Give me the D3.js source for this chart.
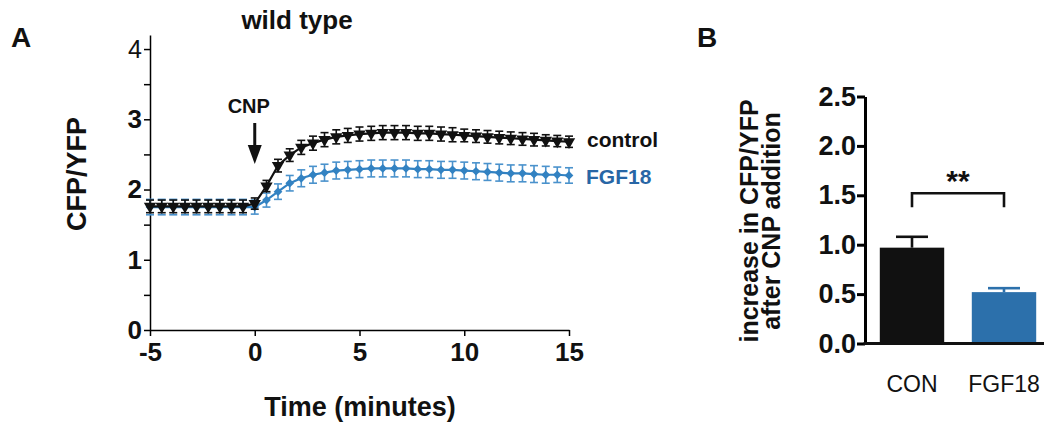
<!DOCTYPE html>
<html>
<head>
<meta charset="utf-8">
<script src="https://cdn.jsdelivr.net/npm/d3@7"></script>
<style>
  body { margin: 0; background: #fff; }
  svg { display: block; font-family: "Liberation Sans", Arial, Helvetica, sans-serif; }
  .bold { font-weight: bold; }
</style>
</head>
<body>
<svg id="chart" width="1044" height="431"></svg>
<script>
// ---- data, panel A (time course) ----
var times = [-5, -4.44, -3.89, -3.33, -2.78, -2.22, -1.67, -1.11, -0.56, 0,
  0.56, 1.11, 1.67, 2.22, 2.78, 3.33, 3.89, 4.44, 5, 5.56, 6.11, 6.67, 7.22,
  7.78, 8.33, 8.89, 9.44, 10, 10.56, 11.11, 11.67, 12.22, 12.78, 13.33, 13.89, 14.44, 15];

var controlMean = [1.76, 1.76, 1.76, 1.76, 1.76, 1.76, 1.76, 1.76, 1.76, 1.80,
  2.05, 2.34, 2.49, 2.60, 2.66, 2.71, 2.75, 2.77, 2.79, 2.80, 2.81, 2.81, 2.81,
  2.80, 2.80, 2.79, 2.78, 2.77, 2.76, 2.75, 2.74, 2.73, 2.72, 2.71, 2.70, 2.69, 2.68];
var controlErr = [0.09, 0.09, 0.09, 0.09, 0.09, 0.09, 0.09, 0.09, 0.09, 0.08,
  0.08, 0.09, 0.09, 0.10, 0.10, 0.10, 0.10, 0.10, 0.10, 0.10, 0.10, 0.10, 0.10,
  0.10, 0.10, 0.10, 0.10, 0.09, 0.09, 0.09, 0.09, 0.09, 0.09, 0.09, 0.08, 0.08, 0.08];

var fgfMean = [1.75, 1.75, 1.75, 1.75, 1.75, 1.75, 1.75, 1.75, 1.75, 1.75,
  1.85, 1.97, 2.09, 2.16, 2.21, 2.24, 2.27, 2.28, 2.29, 2.30, 2.30, 2.30, 2.30,
  2.29, 2.29, 2.28, 2.28, 2.27, 2.26, 2.25, 2.24, 2.23, 2.23, 2.22, 2.21, 2.21, 2.20];
var fgfErr = [0.11, 0.11, 0.11, 0.11, 0.11, 0.11, 0.11, 0.11, 0.11, 0.10,
  0.10, 0.11, 0.11, 0.12, 0.12, 0.12, 0.12, 0.12, 0.12, 0.12, 0.12, 0.12, 0.12,
  0.12, 0.12, 0.12, 0.12, 0.12, 0.12, 0.12, 0.12, 0.12, 0.12, 0.12, 0.12, 0.11, 0.11];

var xTicksA = [-5, 0, 5, 10, 15];
var yTicksA = [0, 0.5, 1, 1.5, 2, 2.5, 3, 3.5, 4];

// ---- data, panel B (bars) ----
var groups = ["CON", "FGF18"];
var barMean = [0.97, 0.52];
var barErr = [0.11, 0.04];
var yTicksB = [0, 0.5, 1, 1.5, 2, 2.5];

var black = "#111";
var blueLine = "#3282c2";
var blueBar = "#2c70ab";
var blueText = "#2866a5";

var svg = d3.select("#chart");

// ============ panel A ============
var xA = d3.scaleLinear().domain([-5, 15]).range([150, 569]);
var yA = d3.scaleLinear().domain([0, 4.2]).range([330, 35]);

var gA = svg.append("g");

// y axis, minor ticks at the halves have no label
var yAxisA = d3.axisLeft(yA)
  .tickValues(yTicksA)
  .tickFormat(function(d) { return d % 1 === 0 ? String(d) : ""; })
  .tickSize(6)
  .tickSizeOuter(0);
var yax = gA.append("g").attr("transform", "translate(" + xA(-5) + ",0)").call(yAxisA);
yax.select(".domain").attr("stroke-width", 1.5);
yax.selectAll(".tick line").attr("stroke-width", 1.5);
yax.selectAll(".tick text")
  .attr("class", "bold")
  .style("font-size", "26px")
  .attr("x", -8)
  .attr("fill", black);
// the top label is drawn thinner in the original
yax.selectAll(".tick text").filter(function(d) { return d === 4; }).attr("class", null).style("font-size", "25px");

// x axis (plain hyphen for the minus, like the original)
var xAxisA = d3.axisBottom(xA).tickValues(xTicksA)
  .tickFormat(function(d) { return String(d); })
  .tickSize(6).tickSizeOuter(0);
var xax = gA.append("g").attr("transform", "translate(0," + yA(0) + ")").call(xAxisA);
xax.select(".domain").attr("stroke-width", 1.5);
xax.selectAll(".tick line").attr("stroke-width", 1.5);
xax.selectAll(".tick text")
  .attr("class", "bold")
  .style("font-size", "26px")
  .attr("y", 13)
  .attr("fill", black);

// series drawing helper
function drawSeries(means, errs, color, errColor, symbol) {
  var pts = times.map(function(t, i) { return { t: t, m: means[i], e: errs[i] }; });
  var g = gA.append("g");

  var eb = g.append("g").attr("stroke", errColor).attr("stroke-width", 1.6);
  pts.forEach(function(p) {
    var cx = xA(p.t);
    eb.append("line").attr("x1", cx).attr("x2", cx).attr("y1", yA(p.m - p.e)).attr("y2", yA(p.m + p.e));
    eb.append("line").attr("x1", cx - 4).attr("x2", cx + 4).attr("y1", yA(p.m - p.e)).attr("y2", yA(p.m - p.e));
    eb.append("line").attr("x1", cx - 4).attr("x2", cx + 4).attr("y1", yA(p.m + p.e)).attr("y2", yA(p.m + p.e));
  });

  g.append("path")
    .datum(pts)
    .attr("fill", "none")
    .attr("stroke", color)
    .attr("stroke-width", 2.2)
    .attr("d", d3.line().x(function(d) { return xA(d.t); }).y(function(d) { return yA(d.m); }));

  g.selectAll(".mk").data(pts).enter().append("path")
    .attr("fill", color)
    .attr("transform", function(d) { return "translate(" + xA(d.t) + "," + yA(d.m) + ") " + symbol.rot; })
    .attr("d", d3.symbol().type(symbol.type).size(symbol.size));
}

drawSeries(fgfMean, fgfErr, blueLine, "#4a92cc", { type: d3.symbolSquare, size: 38, rot: "rotate(45)" });
drawSeries(controlMean, controlErr, black, black, { type: d3.symbolTriangle, size: 66, rot: "rotate(180)" });

// series labels
gA.append("text").attr("class", "bold").attr("x", 587).attr("y", 147)
  .style("font-size", "21px").attr("fill", black).text("control");
gA.append("text").attr("class", "bold").attr("x", 586).attr("y", 184)
  .style("font-size", "21px").attr("fill", blueText).text("FGF18");

// CNP arrow at time 0
var ax = xA(0);
gA.append("text").attr("class", "bold").attr("x", ax - 6).attr("y", 113)
  .attr("text-anchor", "middle").style("font-size", "20px").attr("fill", black).text("CNP");
gA.append("line").attr("x1", ax).attr("x2", ax).attr("y1", 123).attr("y2", 148)
  .attr("stroke", black).attr("stroke-width", 3);
gA.append("path").attr("fill", black)
  .attr("d", "M" + (ax - 7) + ",145 L" + (ax + 7) + ",145 L" + ax + ",164 Z");

// titles
gA.append("text").attr("class", "bold").attr("x", 297).attr("y", 29)
  .attr("text-anchor", "middle").style("font-size", "26px").attr("fill", black).text("wild type");
gA.append("text").attr("class", "bold").attr("x", 360).attr("y", 416)
  .attr("text-anchor", "middle").style("font-size", "27px").attr("fill", black).text("Time (minutes)");
gA.append("text").attr("class", "bold")
  .attr("transform", "translate(86,174) rotate(-90)")
  .attr("text-anchor", "middle").style("font-size", "27px").attr("fill", black).text("CFP/YFP");
svg.append("text").attr("class", "bold").attr("x", 11).attr("y", 47)
  .style("font-size", "28px").attr("fill", black).text("A");

// ============ panel B ============
var xB = d3.scaleBand().domain(groups).range([866, 1050]).paddingInner(0.3).paddingOuter(0.15);
var yB = d3.scaleLinear().domain([0, 2.5]).range([343.5, 96.5]);
var gB = svg.append("g");

var barColors = [black, blueBar];
gB.selectAll(".bar").data(groups).enter().append("rect")
  .attr("x", function(d) { return xB(d); })
  .attr("width", xB.bandwidth())
  .attr("y", function(d, i) { return yB(barMean[i]); })
  .attr("height", function(d, i) { return yB(0) - yB(barMean[i]); })
  .attr("fill", function(d, i) { return barColors[i]; });

// upper error bars
groups.forEach(function(gname, i) {
  var cx = xB(gname) + xB.bandwidth() / 2;
  var col = barColors[i];
  gB.append("line").attr("x1", cx).attr("x2", cx)
    .attr("y1", yB(barMean[i])).attr("y2", yB(barMean[i] + barErr[i]))
    .attr("stroke", col).attr("stroke-width", 2.6);
  gB.append("line").attr("x1", cx - 16).attr("x2", cx + 16)
    .attr("y1", yB(barMean[i] + barErr[i])).attr("y2", yB(barMean[i] + barErr[i]))
    .attr("stroke", col).attr("stroke-width", 2.6);
});

// axes
var yAxisB = d3.axisLeft(yB).tickValues(yTicksB).tickFormat(d3.format(".1f")).tickSize(8).tickSizeOuter(0);
var ybx = gB.append("g").attr("transform", "translate(865,0)").call(yAxisB);
ybx.select(".domain").attr("stroke-width", 3);
ybx.selectAll(".tick line").attr("stroke-width", 3);
ybx.selectAll(".tick text").attr("class", "bold").style("font-size", "27px").attr("x", -9).attr("fill", black);

gB.append("line").attr("x1", 863.5).attr("x2", 1044).attr("y1", yB(0)).attr("y2", yB(0))
  .attr("stroke", black).attr("stroke-width", 3);

groups.forEach(function(gname) {
  gB.append("text").attr("x", xB(gname) + xB.bandwidth() / 2).attr("y", 392)
    .attr("text-anchor", "middle").style("font-size", "23px").attr("fill", black).text(gname);
});

// significance bracket
var c0 = xB("CON") + xB.bandwidth() / 2, c1 = xB("FGF18") + xB.bandwidth() / 2;
gB.append("path").attr("fill", "none").attr("stroke", black).attr("stroke-width", 2.6)
  .attr("d", "M" + c0 + "," + yB(1.38) + " V" + yB(1.52) + " H" + c1 + " V" + yB(1.38));
gB.append("text").attr("class", "bold").attr("x", (c0 + c1) / 2).attr("y", 191)
  .attr("text-anchor", "middle").style("font-size", "30px").attr("fill", black).text("**");

// y title, two lines
var yt = gB.append("text").attr("class", "bold").attr("transform", "translate(758,221) rotate(-90)")
  .attr("text-anchor", "middle").style("font-size", "25px").attr("fill", black);
yt.append("tspan").attr("x", 0).attr("y", 0).text("increase in CFP/YFP");
yt.append("tspan").attr("x", 0).attr("y", 22).text("after CNP addition");

svg.append("text").attr("class", "bold").attr("x", 697).attr("y", 47)
  .style("font-size", "28px").attr("fill", black).text("B");
</script>
</body>
</html>
